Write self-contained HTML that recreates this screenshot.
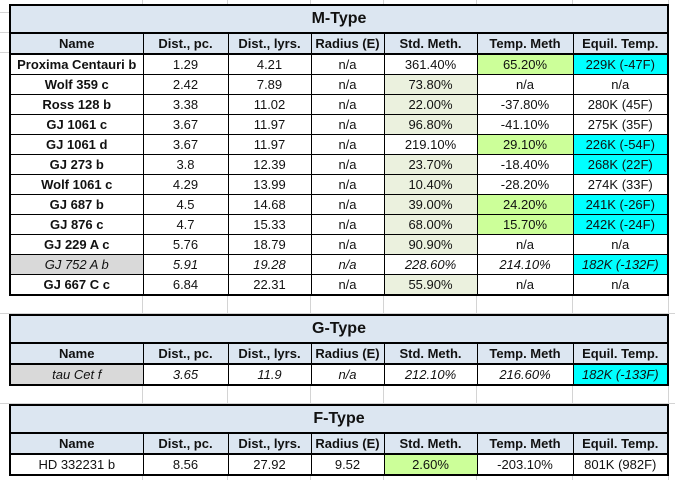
<!DOCTYPE html>
<html><head><meta charset="utf-8"><style>
body{margin:0;width:675px;height:480px;background:#fff;position:relative;overflow:hidden;font-family:"Liberation Sans",sans-serif}
.grid{position:absolute;left:0;top:0}
table{position:absolute;left:9px;border-collapse:collapse;table-layout:fixed;border:2.5px solid #000;background:#fff}
td{border:1px solid #000;height:19px;padding:0;text-align:center;font-size:13px;color:#111;white-space:nowrap;overflow:hidden}
td.t{background:#dce6f1;font-weight:bold;font-size:16px;height:26px;border-bottom:2px solid #000}
td.h{background:#dce6f1;font-weight:bold;font-size:13px;height:19px;border-bottom:2px solid #000}
td.n{font-weight:bold}
.pg{background:#ebf1de}.bg{background:#ccff99}.cy{background:#00ffff}.gr{background:#d9d9d9}
tr.it td{font-style:italic}
</style></head><body>
<svg class="grid" width="675" height="480">
<g stroke="#d4d4d4" stroke-width="1">
<line x1="142.5" y1="0" x2="142.5" y2="480"/><line x1="227.5" y1="0" x2="227.5" y2="480"/><line x1="310.5" y1="0" x2="310.5" y2="480"/><line x1="383.5" y1="0" x2="383.5" y2="480"/><line x1="476.5" y1="0" x2="476.5" y2="480"/><line x1="572.5" y1="0" x2="572.5" y2="480"/><line x1="668.5" y1="0" x2="668.5" y2="480"/>
<line x1="0" y1="313.5" x2="675" y2="313.5"/><line x1="0" y1="403.5" x2="675" y2="403.5"/>
<line x1="0" y1="12.5" x2="9" y2="12.5"/><line x1="0" y1="32.5" x2="9" y2="32.5"/><line x1="0" y1="52.5" x2="9" y2="52.5"/>
</g></svg>
<table id="m" style="top:4px"></table>
<table id="g" style="top:314px"></table>
<table id="f" style="top:404px"></table>
<script>
const widths=[133,85,83,73,93,96,95];
const heads=["Name","Dist., pc.","Dist., lyrs.","Radius (E)","Std. Meth.","Temp. Meth","Equil. Temp."];
const mRows=[
["Proxima Centauri b","1.29","4.21","n/a","361.40%","65.20%","229K (-47F)","","","","","","bg","cy"],
["Wolf 359 c","2.42","7.89","n/a","73.80%","n/a","n/a","","","","","pg","",""],
["Ross 128 b","3.38","11.02","n/a","22.00%","-37.80%","280K (45F)","","","","","pg","",""],
["GJ 1061 c","3.67","11.97","n/a","96.80%","-41.10%","275K (35F)","","","","","pg","",""],
["GJ 1061 d","3.67","11.97","n/a","219.10%","29.10%","226K (-54F)","","","","","","bg","cy"],
["GJ 273 b","3.8","12.39","n/a","23.70%","-18.40%","268K (22F)","","","","","pg","","cy"],
["Wolf 1061 c","4.29","13.99","n/a","10.40%","-28.20%","274K (33F)","","","","","pg","",""],
["GJ 687 b","4.5","14.68","n/a","39.00%","24.20%","241K (-26F)","","","","","pg","bg","cy"],
["GJ 876 c","4.7","15.33","n/a","68.00%","15.70%","242K (-24F)","","","","","pg","bg","cy"],
["GJ 229 A c","5.76","18.79","n/a","90.90%","n/a","n/a","","","","","pg","",""],
["GJ 752 A b","5.91","19.28","n/a","228.60%","214.10%","182K (-132F)","gr","","","","","","cy"],
["GJ 667 C c","6.84","22.31","n/a","55.90%","n/a","n/a","","","","","pg","",""]];
const gRows=[["tau Cet f","3.65","11.9","n/a","212.10%","216.60%","182K (-133F)","gr","","","","","","cy"]];
const fRows=[["HD 332231 b","8.56","27.92","9.52","2.60%","-203.10%","801K (982F)","","","","","bg","",""]];
function build(id,title,rows,italicIdx,boldName){
 const t=document.getElementById(id);
 const cg=document.createElement('colgroup');
 widths.forEach(w=>{const c=document.createElement('col');c.style.width=w+'px';cg.appendChild(c);});
 t.appendChild(cg);
 let tr=document.createElement('tr');
 let td=document.createElement('td');td.colSpan=7;td.className='t';td.textContent=title;
 
 
 tr.appendChild(td);t.appendChild(tr);
 tr=document.createElement('tr');
 heads.forEach(h=>{const c=document.createElement('td');c.className='h';c.textContent=h;
  
  
  tr.appendChild(c);});
 t.appendChild(tr);
 rows.forEach((r,i)=>{
  const row=document.createElement('tr');
  if(italicIdx.includes(i))row.className='it';
  
  
  for(let k=0;k<7;k++){
   const c=document.createElement('td');c.textContent=r[k];
   let cls=r[7+k]||'';
   if(k==0&&boldName&&!italicIdx.includes(i))cls+=' n';
   c.className=cls;
   
   
   row.appendChild(c);
  }
  t.appendChild(row);
 });
}
build('m','M-Type',mRows,[10],true);
build('g','G-Type',gRows,[0],true);
build('f','F-Type',fRows,[],false);
</script>
</body></html>
